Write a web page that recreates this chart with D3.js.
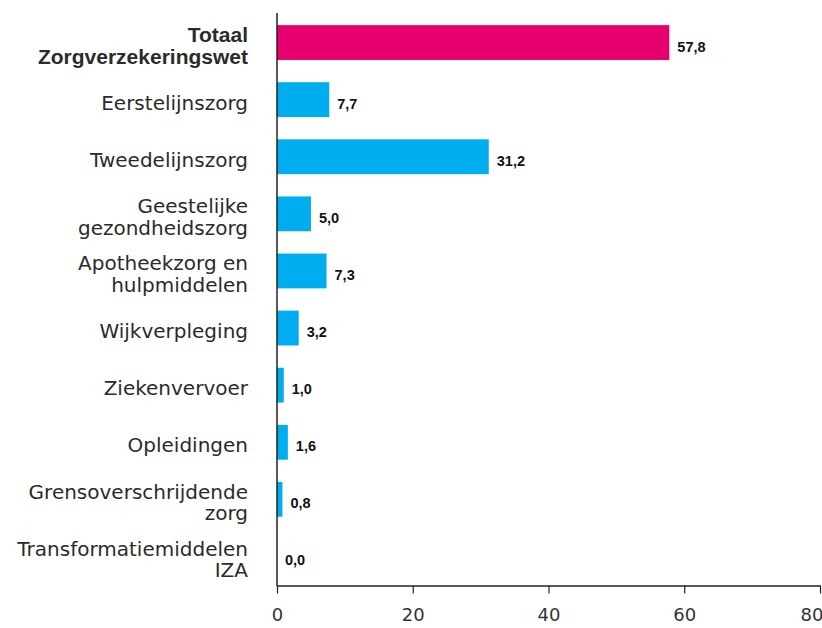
<!DOCTYPE html>
<html>
<head>
<meta charset="utf-8">
<script src="https://cdn.jsdelivr.net/npm/d3@7"></script>
<style>
    body { margin: 0; background: #fff; }
    svg { display: block; }
</style>
</head>
<body>
<svg id="chart"></svg>
<script>
(function (d3) {
    'use strict';

    // categorie labels (regels gesplitst) en waarden in mld euro
    var categories = [
        ['Totaal', 'Zorgverzekeringswet'],
        ['Eerstelijnszorg'],
        ['Tweedelijnszorg'],
        ['Geestelijke', 'gezondheidszorg'],
        ['Apotheekzorg en', 'hulpmiddelen'],
        ['Wijkverpleging'],
        ['Ziekenvervoer'],
        ['Opleidingen'],
        ['Grensoverschrijdende', 'zorg'],
        ['Transformatiemiddelen', 'IZA']
    ];
    var values = [57.8, 7.7, 31.2, 5.0, 7.3, 3.2, 1.0, 1.6, 0.8, 0.0];
    var xTicks = [0, 20, 40, 60, 80];

    var width = 822,
        height = 628,
        margin = { top: 14, right: 2, bottom: 43, left: 277 };

    var fmt = function (v) { return d3.format('.1f')(v).replace('.', ','); };

    var x = d3.scaleLinear().domain([0, 80]).range([margin.left, width - margin.right]),
        y = d3.scaleBand()
            .domain(d3.range(categories.length))
            .range([margin.top, height - margin.bottom])
            .paddingInner(0.39)
            .paddingOuter(0.195);

    var svg = d3.select('#chart')
        .attr('width', width)
        .attr('height', height);

    var rows = svg.selectAll('.row')
        .data(values)
        .enter()
        .append('g')
        .attr('class', 'row');

    rows.append('rect')
        .attr('x', x(0))
        .attr('y', function (d, i) { return y(i); })
        .attr('width', function (d) { return x(d) - x(0); })
        .attr('height', y.bandwidth())
        .attr('fill', function (d, i) { return i === 0 ? '#e5006d' : '#00aeef'; });

    rows.append('text')
        .attr('x', function (d) { return x(d) + 8; })
        .attr('y', function (d, i) { return y(i) + y.bandwidth() / 2 + 9; })
        .style('font-family', '"Liberation Sans", Arial, sans-serif')
        .style('font-weight', 'bold')
        .style('font-size', '14.5px')
        .style('fill', '#111')
        .text(function (d) { return fmt(d); });

    // categorie labels links
    var labels = svg.selectAll('.cat-label')
        .data(categories)
        .enter()
        .append('text')
        .attr('class', 'cat-label')
        .attr('text-anchor', 'end')
        .style('font-family', function (d, i) { return i === 0 ? '"Liberation Sans", Arial, sans-serif' : '"DejaVu Sans", sans-serif'; })
        .style('font-weight', function (d, i) { return i === 0 ? 'bold' : 'normal'; })
        .style('font-size', function (d, i) { return i === 0 ? '21px' : '20px'; })
        .style('fill', '#2b2b2b');

    labels.each(function (lines, i) {
        var c = y(i) + y.bandwidth() / 2;
        var base = lines.length === 1 ? c + 10 : c - 0.5;
        d3.select(this).selectAll('tspan')
            .data(lines)
            .enter()
            .append('tspan')
            .attr('x', 248)
            .attr('y', function (l, j) { return base + j * 21.5; })
            .text(function (l) { return l; });
    });

    // x-as
    var xAxis = svg.append('g')
        .attr('class', 'axis axis--x')
        .attr('transform', 'translate(0,' + (height - margin.bottom + 0.5) + ')')
        .call(d3.axisBottom(x).tickValues(xTicks).tickSize(8).tickSizeOuter(0).tickPadding(15));

    xAxis.select('.domain').attr('stroke', '#222').attr('stroke-width', 1.5);
    xAxis.selectAll('.tick line').attr('stroke', '#222').attr('stroke-width', 1.2);
    xAxis.selectAll('.tick text')
        .style('font-family', '"DejaVu Sans", sans-serif')
        .style('font-size', '18px')
        .style('fill', '#333')
        .attr('text-anchor', function (d, i) { return i === xTicks.length - 1 ? 'end' : 'middle'; })
        .attr('dx', function (d, i) { return i === xTicks.length - 1 ? 3 : 0; });

    // verticale as
    svg.append('line')
        .attr('x1', x(0))
        .attr('x2', x(0))
        .attr('y1', margin.top - 1)
        .attr('y2', height - margin.bottom + 1)
        .attr('stroke', '#222')
        .attr('stroke-width', 1.5);

})(window.d3);
</script>
</body>
</html>
